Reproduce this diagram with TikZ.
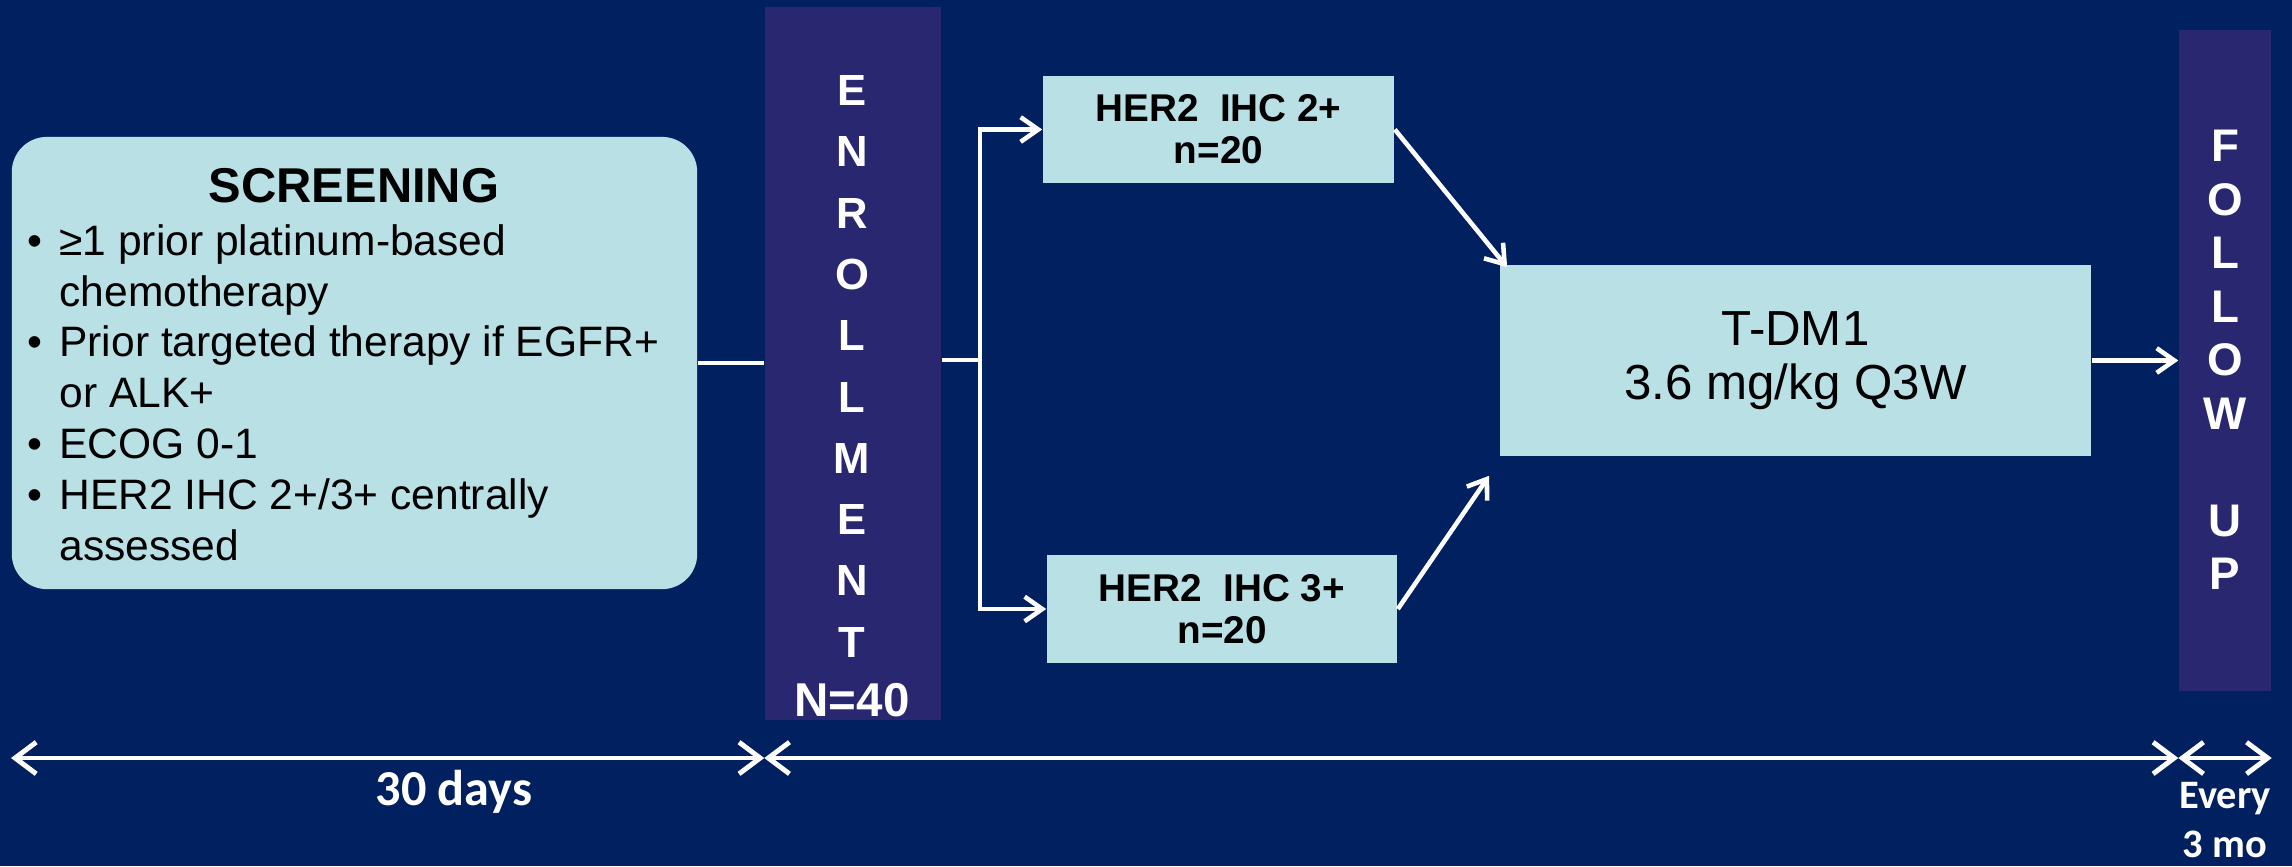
\documentclass[tikz,border=0pt]{standalone}
\usepackage{fontspec}
\setmainfont{Liberation Sans}
\newfontfamily\calib{Carlito}
\usetikzlibrary{arrows.meta,calc}
\definecolor{bgnavy}{RGB}{1,32,96}
\definecolor{barpurple}{RGB}{41,39,112}
\definecolor{lightbox}{RGB}{185,224,228}
\tikzset{
  lightnode/.style={fill=lightbox, draw=none, inner sep=0pt, text=black, align=center},
  barnode/.style={fill=barpurple, draw=none, inner sep=0pt},
  wline/.style={draw=white, line width=1.3pt},
  conn/.style={draw=white, line width=1.3pt, -{Straight Barb[length=5pt,width=7pt]}},
  tline/.style={draw=white, line width=1.4pt, {Straight Barb[length=6pt,width=9pt]}-{Straight Barb[length=6pt,width=9pt]}},
  barletter/.style={text=white, font=\bfseries\fontsize{12.4}{14}\selectfont, anchor=base, inner sep=0pt},
  fuletter/.style={text=white, font=\bfseries\fontsize{13}{15}\selectfont, anchor=base, inner sep=0pt},
  timelabel/.style={text=white, anchor=base, inner sep=0pt}
}
\begin{document}
\begin{tikzpicture}[x=0.01cm,y=-0.01cm]
\fill[bgnavy] (0,0) rectangle (2292,866);
\useasboundingbox (0,0) rectangle (2292,866);

% screening
\node[lightnode, rounded corners=10pt, minimum width=6.85cm, minimum height=4.52cm] (scr) at (354.5,363) {};
\node[anchor=base, inner sep=0pt, font=\bfseries\fontsize{13.9}{16}\selectfont] (scrtitle) at (354,202) {SCREENING};
\node[anchor=base west, inner sep=0pt, font=\fontsize{12.1}{14.5}\selectfont] (scrlist) at (27,255)
  {\begin{tabular}[t]{@{}l@{\hspace{4.8pt}}l@{}}
   \textbullet & ≥1 prior platinum-based\\
               & chemotherapy\\
   \textbullet & Prior targeted therapy if EGFR+\\
               & or ALK+\\
   \textbullet & ECOG 0-1\\
   \textbullet & HER2 IHC 2+/3+ centrally\\
               & assessed
   \end{tabular}};

% enrollment bar
\node[barnode, minimum width=1.76cm, minimum height=7.13cm] (enr) at (853,363.5) {};
\foreach \l [count=\i from 0] in {E,N,R,O,L,L,M,E,N,T}
  \node[barletter] (enr\i) at (852,{105.5+61.3*\i}) {\l};
\node[barletter, font=\bfseries\fontsize{13.5}{16}\selectfont] (enrN) at (852,716) {N=40};

% cohorts
\node[lightnode, minimum width=3.51cm, minimum height=1.07cm, font=\bfseries\fontsize{11}{12}\selectfont] (h2) at (1218.5,129.5) {HER2~~IHC 2+\\n=20};
\node[lightnode, minimum width=3.50cm, minimum height=1.08cm, font=\bfseries\fontsize{11}{12}\selectfont] (h3) at (1222,609) {HER2~~IHC 3+\\n=20};

% treatment
\node[lightnode, minimum width=5.91cm, minimum height=1.91cm, font=\fontsize{14}{15.4}\selectfont] (tdm) at (1795.5,360.5) {T-DM1\\3.6 mg/kg Q3W};

% follow-up bar
\node[barnode, minimum width=0.92cm, minimum height=6.61cm] (fu) at (2225,360.5) {};
\foreach \l [count=\i from 0] in {F,O,L,L,O,W}
  \node[fuletter] (fu\i) at (2225,{161.5+53.5*\i}) {\l};
\node[fuletter] (fuU) at (2225,536) {U};
\node[fuletter] (fuP) at (2225,589.5) {P};

% connectors
\draw[wline] (scr.east) -- (scr.east -| enr.west);
\coordinate (br) at (980,360);
\draw[wline] (enr.east |- br) -- (br);
\draw[conn] (br) |- (h2.west);
\draw[conn] (br) |- (h3.west);
\draw[conn] (h2.east) -- ($(tdm.north west)+(8,3)$);
\draw[conn] (h3.east) -- ($(tdm.south west)+(-10,19)$);
\draw[conn] (tdm.east) -- (tdm.east -| fu.west);

% timeline
\coordinate (t0) at (11,758);
\coordinate (t1) at (enr.south west |- t0);
\coordinate (t2) at (fu.south west |- t0);
\coordinate (t3) at (fu.south east |- t0);
\draw[tline] (t0) -- (t1);
\draw[tline] (t1) -- (t2);
\draw[tline] (t2) -- (t3);
\node[timelabel, font=\calib\bfseries\fontsize{14.3}{16}\selectfont] (days) at (454,805) {30 days};
\node[timelabel, font=\calib\bfseries\fontsize{11.5}{14}\selectfont] (every) at (2225,808) {Every};
\node[timelabel, font=\calib\bfseries\fontsize{11.5}{14}\selectfont] (mo) at (2225,857) {3 mo};
\end{tikzpicture}
\end{document}
